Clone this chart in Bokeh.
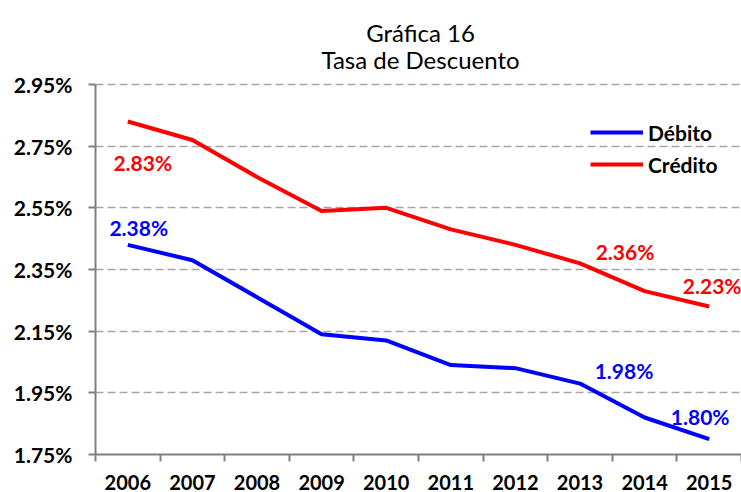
from bokeh.plotting import figure
from bokeh.models import (Range1d, FixedTicker, PrintfTickFormatter, Legend, LegendItem)
from bokeh.core.properties import value
from bokeh.embed import file_html
from bokeh.resources import INLINE

title_lines = ["Gráfica 16", "Tasa de Descuento"]
years = [2006, 2007, 2008, 2009, 2010, 2011, 2012, 2013, 2014, 2015]
debito = [2.43, 2.38, 2.26, 2.14, 2.12, 2.04, 2.03, 1.98, 1.87, 1.80]
credito = [2.83, 2.77, 2.65, 2.54, 2.55, 2.48, 2.43, 2.37, 2.28, 2.23]
y_ticks = [1.75, 1.95, 2.15, 2.35, 2.55, 2.75, 2.95]

red_label_years = [2006, 2013, 2015]
red_label_text = ["2.83%", "2.36%", "2.23%"]
blue_label_years = [2006, 2013, 2015]
blue_label_text = ["2.38%", "1.98%", "1.80%"]

# styling offsets (pixels)
red_label_dx = [15, 45, 3]
red_label_dy = [41, -12, -21]
blue_label_dx = [11, 44, -9]
blue_label_dy = [-17, -13, -23]
title_baselines = [32, 59]   # px below the top of the canvas

FONT = "Lato"
BLUE = "#0000FF"
RED = "#FF0000"
GREY = "#808080"

# layout: plot area starts at the canvas top; titles live in the space above the top tick
HEIGHT, BORDER_BOTTOM, TOP_GAP = 492, 38, 84
frame_h = HEIGHT - BORDER_BOTTOM
span = y_ticks[-1] - y_ticks[0]
y_top = y_ticks[-1] + span * TOP_GAP / (frame_h - TOP_GAP)

x_range = Range1d(years[0] - 0.5, years[-1] + 0.5)
y_range = Range1d(y_ticks[0], y_top)

p = figure(width=741, height=HEIGHT, output_backend="svg", toolbar_location=None,
           x_range=x_range, y_range=y_range,
           min_border_left=95, min_border_right=0, min_border_bottom=BORDER_BOTTOM,
           min_border_top=0)
p.outline_line_color = None
p.background_fill_color = "white"
p.border_fill_color = "white"

p.text(x=[(x_range.start + x_range.end) / 2] * len(title_lines), y=[y_top] * len(title_lines),
       text=title_lines, x_offset=2, y_offset=title_baselines, text_align="center",
       text_baseline="alphabetic", text_font=value(FONT), text_font_size="24px",
       text_color="black")

p.yaxis.ticker = FixedTicker(ticks=y_ticks)
p.yaxis.bounds = (y_ticks[0], y_ticks[-1])
p.yaxis.formatter = PrintfTickFormatter(format="%.2f%%")
p.yaxis.major_tick_out = 7
p.yaxis.major_tick_in = 0
p.yaxis.minor_tick_line_color = None
p.yaxis.axis_line_color = GREY
p.yaxis.axis_line_width = 2
p.yaxis.major_tick_line_color = GREY
p.yaxis.major_tick_line_width = 2
p.yaxis.major_label_text_font = FONT
p.yaxis.major_label_text_font_style = "bold"
p.yaxis.major_label_text_font_size = "21px"
p.yaxis.major_label_text_color = "black"
p.yaxis.major_label_standoff = 16

p.xaxis.ticker = FixedTicker(ticks=years, minor_ticks=[y - 0.5 for y in years] + [years[-1] + 0.5])
p.xaxis.major_tick_line_color = None
p.xaxis.minor_tick_line_color = GREY
p.xaxis.minor_tick_line_width = 2
p.xaxis.minor_tick_out = 7
p.xaxis.minor_tick_in = 0
p.xaxis.axis_line_color = GREY
p.xaxis.axis_line_width = 2
p.xaxis.major_label_text_font = FONT
p.xaxis.major_label_text_font_style = "bold"
p.xaxis.major_label_text_font_size = "20px"
p.xaxis.major_label_text_color = "black"
p.xaxis.major_label_standoff = 13

p.xgrid.grid_line_color = None
p.ygrid.ticker = FixedTicker(ticks=y_ticks)
p.ygrid.grid_line_color = "#A6A6A6"
p.ygrid.grid_line_width = 1.5
p.ygrid.grid_line_dash = "8 4"

r_deb = p.line(years, debito, line_color=BLUE, line_width=4)
r_cre = p.line(years, credito, line_color=RED, line_width=4)

red_vals = [credito[years.index(y)] for y in red_label_years]
blue_vals = [debito[years.index(y)] for y in blue_label_years]
p.text(x=red_label_years, y=red_vals, text=red_label_text, x_offset=red_label_dx,
       y_offset=red_label_dy, text_color=RED, text_font=value(FONT), text_font_style="bold",
       text_font_size="21px", text_align="center", text_baseline="middle")
p.text(x=blue_label_years, y=blue_vals, text=blue_label_text, x_offset=blue_label_dx,
       y_offset=blue_label_dy, text_color=BLUE, text_font=value(FONT), text_font_style="bold",
       text_font_size="21px", text_align="center", text_baseline="middle")

legend = Legend(items=[LegendItem(label="Débito", renderers=[r_deb]),
                       LegendItem(label="Crédito", renderers=[r_cre])],
                location=(495, 277), orientation="vertical",
                glyph_width=53, glyph_height=26, label_height=26, spacing=6,
                label_standoff=5, padding=0, margin=0,
                label_text_font=FONT, label_text_font_style="bold", label_text_font_size="21px",
                label_text_color="black", border_line_color=None, background_fill_alpha=0)
p.add_layout(legend, "center")

open("out.html", "w").write(file_html(p, INLINE))
